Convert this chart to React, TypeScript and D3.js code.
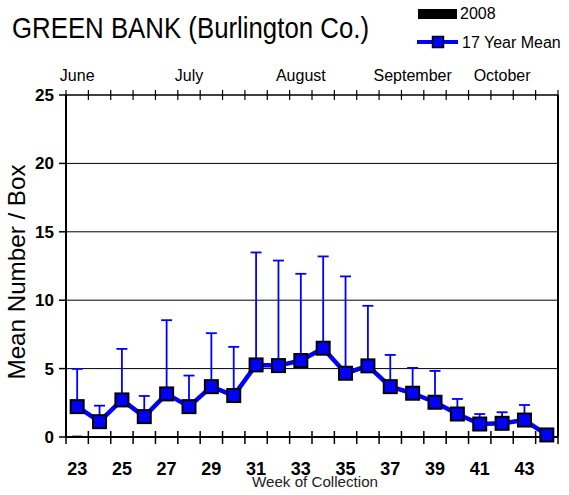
import React from "react";
import * as d3 from "d3";

const weeks = [23, 24, 25, 26, 27, 28, 29, 30, 31, 32, 33, 34, 35, 36, 37, 38, 39, 40, 41, 42, 43, 44];
const mean17 = [2.22, 1.12, 2.71, 1.49, 3.15, 2.22, 3.68, 3.03, 5.27, 5.22, 5.59, 6.49, 4.66, 5.2, 3.68, 3.2, 2.54, 1.68, 0.95, 1.0, 1.24, 0.15];
const upper17: (number | null)[] = [4.98, 2.29, 6.44, 3.0, 8.54, 4.49, 7.59, 6.59, 13.49, 12.9, 11.93, 13.2, 11.74, 9.59, 6.0, 5.05, 4.83, 2.78, 1.68, 1.81, 2.34, null];
const y2008: (number | null)[] = [0.1, null, null, null, null, null, null, null, null, null, null, null, null, null, null, null, null, null, null, null, null, null];
const yTicks = [0, 5, 10, 15, 20, 25];
const xLabelWeeks = [23, 25, 27, 29, 31, 33, 35, 37, 39, 41, 43];
const monthLabels = ["June", "July", "August", "September", "October"];
const monthWeeks = [23, 28, 33, 38, 42];

const FONT = "'Liberation Sans', Arial, Helvetica, sans-serif";
const BLUE = "#0000ff";

export default function App() {
  const W = 569;
  const H = 495;
  const left = 66, right = 558, top = 95, bottom = 437;

  const x = d3.scaleBand<number>().domain(weeks).range([left, right]).padding(0);
  const y = d3.scaleLinear().domain([0, 25]).range([bottom, top]);
  const cx = (w: number) => (x(w) as number) + x.bandwidth() / 2;

  const line = d3
    .line<number>()
    .x((_, i) => cx(weeks[i]))
    .y((d) => y(d));

  const boundaries = weeks.map((w) => x(w) as number).concat([right]);
  const barW = 10;
  const capW = 11;
  const sq = 13;

  return (
    <svg
      width={W}
      height={H}
      style={{ position: "absolute", left: 0, top: 0, background: "#fff" }}
      fontFamily={FONT}
    >
      <rect x={0} y={0} width={W} height={H} fill="#fff" />
      {/* Title */}
      <text x={12} y={38} fontSize={29} textLength={357} lengthAdjust="spacingAndGlyphs" fill="#000">
        GREEN BANK (Burlington Co.)
      </text>

      {/* Legend */}
      <rect x={418} y={9} width={39} height={10} fill="#000" />
      <text x={460} y={19} fontSize={16} fill="#000">2008</text>
      <line x1={417} x2={458} y1={42} y2={42} stroke={BLUE} strokeWidth={4} />
      <rect x={438 - 5.5} y={42 - 5.5} width={11} height={11} fill={BLUE} stroke="#000" strokeWidth={1.5} />
      <text x={462} y={48} fontSize={16} fill="#000">17 Year Mean</text>

      {/* Month labels */}
      {monthLabels.map((m, i) => (
        <text key={m} x={cx(monthWeeks[i])} y={81} fontSize={16} textAnchor="middle" fill="#000">
          {m}
        </text>
      ))}

      {/* Gridlines */}
      {yTicks
        .filter((t) => t > 0 && t < 25)
        .map((t) => (
          <line key={"g" + t} x1={left} x2={right} y1={y(t)} y2={y(t)} stroke="#000" strokeWidth={1} />
        ))}

      {/* Y ticks and labels */}
      {yTicks.map((t) => (
        <g key={"yt" + t}>
          <line x1={left - 7} x2={left} y1={y(t)} y2={y(t)} stroke="#000" strokeWidth={1.5} />
          <text x={54} y={y(t) + 6} fontSize={17} fontWeight="bold" textAnchor="end" fill="#000">
            {t}
          </text>
        </g>
      ))}

      {/* Axes frame */}
      <line x1={left} x2={right} y1={top} y2={top} stroke="#000" strokeWidth={1.5} />
      <line x1={left} x2={right} y1={bottom} y2={bottom} stroke="#000" strokeWidth={2} />
      <line x1={left} x2={left} y1={top} y2={bottom} stroke="#000" strokeWidth={2} />
      <line x1={right} x2={right} y1={top} y2={bottom} stroke="#000" strokeWidth={2} />

      {/* Top and bottom ticks */}
      {boundaries.map((b, i) => (
        <g key={"xt" + i}>
          <line x1={b} x2={b} y1={top - 5} y2={top + 5} stroke="#000" strokeWidth={1.2} />
          <line x1={b} x2={b} y1={bottom - 6} y2={bottom + 7} stroke="#000" strokeWidth={1.5} />
        </g>
      ))}

      {/* X labels */}
      {xLabelWeeks.map((w) => (
        <text key={"xl" + w} x={cx(w)} y={475} fontSize={18} fontWeight="bold" textAnchor="middle" fill="#000">
          {w}
        </text>
      ))}
      <text x={315} y={487} fontSize={15} textAnchor="middle" textLength={126} lengthAdjust="spacingAndGlyphs" fill="#222">
        Week of Collection
      </text>

      {/* Y axis label */}
      <text
        transform={`translate(25, 272) rotate(-90)`}
        fontSize={24}
        textAnchor="middle"
        textLength={215}
        lengthAdjust="spacingAndGlyphs"
        fill="#000"
      >
        Mean Number / Box
      </text>

      {/* 2008 bars */}
      {y2008.map((v, i) =>
        v == null ? null : (
          <rect
            key={"b" + i}
            x={cx(weeks[i]) - barW / 2}
            y={y(v)}
            width={barW}
            height={y(0) - y(v)}
            fill="#000"
          />
        )
      )}

      {/* Error bars */}
      {upper17.map((u, i) =>
        u == null ? null : (
          <g key={"e" + i} stroke={BLUE} strokeWidth={1.8}>
            <line x1={cx(weeks[i])} x2={cx(weeks[i])} y1={y(mean17[i])} y2={y(u)} />
            <line x1={cx(weeks[i]) - capW / 2} x2={cx(weeks[i]) + capW / 2} y1={y(u)} y2={y(u)} />
          </g>
        )
      )}

      {/* Mean line */}
      <path d={line(mean17) || ""} fill="none" stroke={BLUE} strokeWidth={4.5} strokeLinejoin="round" />

      {/* Markers */}
      {mean17.map((v, i) => (
        <rect
          key={"m" + i}
          x={cx(weeks[i]) - sq / 2}
          y={y(v) - sq / 2}
          width={sq}
          height={sq}
          fill={BLUE}
          stroke="#000"
          strokeWidth={2}
        />
      ))}
    </svg>
  );
}
